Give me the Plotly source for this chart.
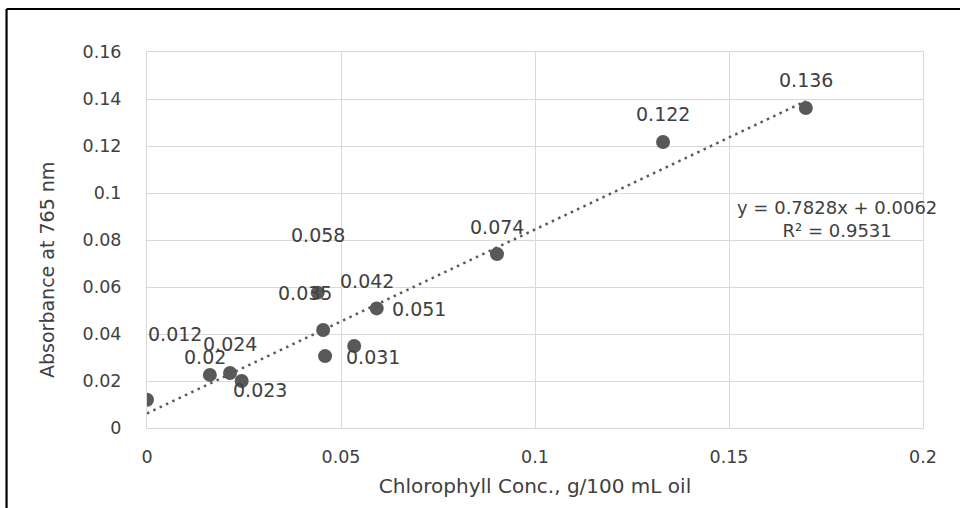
import plotly.graph_objects as go
import numpy as np

# ---- data ----
conc = [0.0, 0.0162, 0.0214, 0.0244, 0.0440, 0.0454, 0.0459, 0.0534, 0.0592, 0.0902, 0.1330, 0.1698]
absorb = [0.012, 0.0226, 0.0234, 0.0200, 0.0576, 0.0417, 0.0306, 0.0349, 0.0509, 0.0740, 0.1217, 0.1362]
point_labels = ["0.012", "0.02", "0.024", "0.023", "0.058", "0.042", "0.031", "0.035", "0.051", "0.074", "0.122", "0.136"]
slope = 0.7828
intercept = 0.0062
r_squared = 0.9531
x_ticks = [0, 0.05, 0.1, 0.15, 0.2]
y_ticks = [0, 0.02, 0.04, 0.06, 0.08, 0.1, 0.12, 0.14, 0.16]
x_title = "Chlorophyll Conc., g/100 mL oil"
y_title = "Absorbance at 765 nm"

# ---- label offsets (style, pixels) ----
label_dx = [28, -5, 0, 18, 0, 44, 48, -49, 42, 0, 0, 0]
label_dy = [66, 18, 29, -9, 58, 49, -1, 53, -1, 27, 28, 28]

FONT = "DejaVu Sans"
TXT = "#404040"
PT = "#595959"
GRID = "#d9d9d9"

fig = go.Figure()

tx = np.array([min(conc), max(conc)])
fig.add_trace(go.Scatter(
    x=tx, y=slope * tx + intercept, mode="lines",
    line=dict(color=PT, width=2.5, dash="2.5px,4.5px"),
    hoverinfo="skip", showlegend=False))

fig.add_trace(go.Scatter(
    x=conc, y=absorb, mode="markers",
    marker=dict(color=PT, size=14),
    showlegend=False))

for x, y, t, dx, dy in zip(conc, absorb, point_labels, label_dx, label_dy):
    fig.add_annotation(x=x, y=y, xref="x", yref="y", text=t, showarrow=False,
                       xshift=dx, yshift=dy, xanchor="center", yanchor="middle",
                       font=dict(family=FONT, size=19, color=TXT))

fig.add_annotation(
    x=0.889, y=0.556, xref="paper", yref="paper",
    text=f"y = {slope}x + {intercept}<br>R² = {r_squared}",
    showarrow=False, align="center", xanchor="center", yanchor="middle",
    font=dict(family=FONT, size=18, color=TXT))

# y-axis title (placed like the reference, slightly below centre)
fig.add_annotation(
    x=-0.129, y=0.42, xref="paper", yref="paper", text=y_title,
    textangle=-90, showarrow=False, xanchor="center", yanchor="middle",
    font=dict(family=FONT, size=19, color=TXT))

# outer frame (top & left edges visible)
fig.add_shape(type="line", xref="paper", yref="paper",
              x0=-0.181, x1=1.2, y0=1.1144, y1=1.1144,
              line=dict(color="black", width=2.2))
fig.add_shape(type="line", xref="paper", yref="paper",
              x0=-0.181, x1=-0.181, y0=1.1144, y1=-0.3,
              line=dict(color="black", width=2.2))

fig.update_layout(
    width=960, height=508,
    margin=dict(l=147, r=37, t=52, b=80),
    paper_bgcolor="white", plot_bgcolor="white",
    font=dict(family=FONT, color=TXT),
    hovermode=False,
    xaxis=dict(
        range=[0, 0.2], tickvals=x_ticks, ticktext=[f"{v:g}" for v in x_ticks],
        showgrid=True, gridcolor=GRID, gridwidth=1,
        showline=True, linecolor=GRID, linewidth=1, mirror=True,
        zeroline=False, ticks="", ticklabelstandoff=13,
        tickfont=dict(family=FONT, size=17.5, color=TXT),
        title=dict(text=x_title,
                   font=dict(family=FONT, size=20, color=TXT), standoff=12),
    ),
    yaxis=dict(
        range=[0, 0.16], tickvals=y_ticks, ticktext=[f"{v:g}" for v in y_ticks],
        showgrid=True, gridcolor=GRID, gridwidth=1,
        showline=True, linecolor=GRID, linewidth=1, mirror=True,
        zeroline=False, ticks="", ticklabelstandoff=21,
        tickfont=dict(family=FONT, size=17.5, color=TXT),
    ),
)

fig.write_html("out.html",
               config={"displayModeBar": False},
               post_script="document.body.style.margin='0';document.body.style.overflow='hidden';")
